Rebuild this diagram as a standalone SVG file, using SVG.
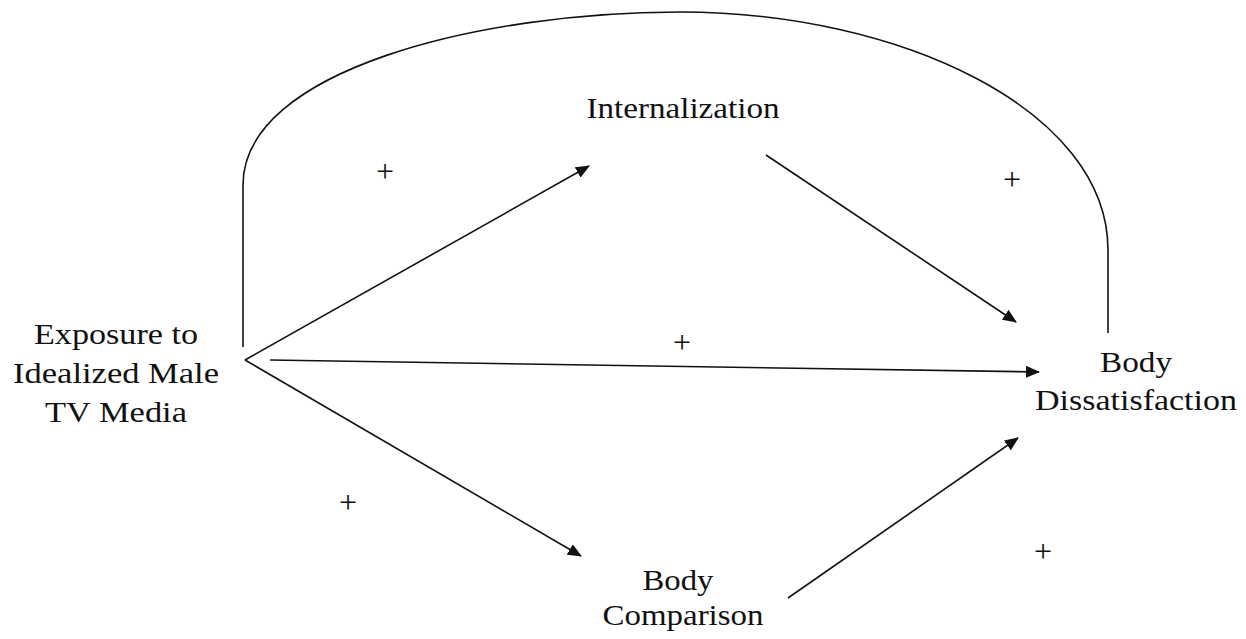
<svg xmlns="http://www.w3.org/2000/svg" width="1246" height="639" viewBox="0 0 1246 639">
<style>
text{font-family:"Liberation Serif","Times New Roman",serif;font-size:30px;fill:#111;text-anchor:middle}
.plus{font-size:32px}
.c{fill:none;stroke:#111;stroke-width:1.6}
</style>
<defs>
<marker id="ah" viewBox="0 0 14 12" refX="13" refY="6" markerWidth="14" markerHeight="12" markerUnits="userSpaceOnUse" orient="auto">
<path d="M0,0 L14,6 L0,12 Z" fill="#111"/>
</marker>
</defs>
<rect width="1246" height="639" fill="#fff"/>
<g id="connectors">
<path class="c" d="M243,347 L243,185 C243,70 480,12 680,12 C900,12 1108,110 1108,250 L1108,333"/>
<line class="c" x1="245" y1="360" x2="589" y2="166" marker-end="url(#ah)"/>
<line class="c" x1="766" y1="155" x2="1016" y2="322" marker-end="url(#ah)"/>
<line class="c" x1="270" y1="360" x2="1039" y2="372" marker-end="url(#ah)"/>
<line class="c" x1="245" y1="360" x2="581" y2="556" marker-end="url(#ah)"/>
<line class="c" x1="788" y1="598" x2="1018" y2="438" marker-end="url(#ah)"/>
</g>
<g id="exposure"><text x="116" y="344" textLength="164" lengthAdjust="spacingAndGlyphs">Exposure to</text><text x="116" y="383" textLength="206" lengthAdjust="spacingAndGlyphs">Idealized Male</text><text x="116" y="422" textLength="142" lengthAdjust="spacingAndGlyphs">TV Media</text></g>
<g id="internalization"><text x="683" y="118" textLength="193" lengthAdjust="spacingAndGlyphs">Internalization</text></g>
<g id="dissatisfaction"><text x="1136" y="372" textLength="72" lengthAdjust="spacingAndGlyphs">Body</text><text x="1136" y="410" textLength="202" lengthAdjust="spacingAndGlyphs">Dissatisfaction</text></g>
<g id="comparison"><text x="678" y="590" textLength="71" lengthAdjust="spacingAndGlyphs">Body</text><text x="683" y="625" textLength="161" lengthAdjust="spacingAndGlyphs">Comparison</text></g>
<g id="labels">
<text class="plus" x="385" y="182">+</text>
<text class="plus" x="1012" y="190">+</text>
<text class="plus" x="682" y="353">+</text>
<text class="plus" x="348" y="513">+</text>
<text class="plus" x="1043" y="562">+</text>
</g>
</svg>
